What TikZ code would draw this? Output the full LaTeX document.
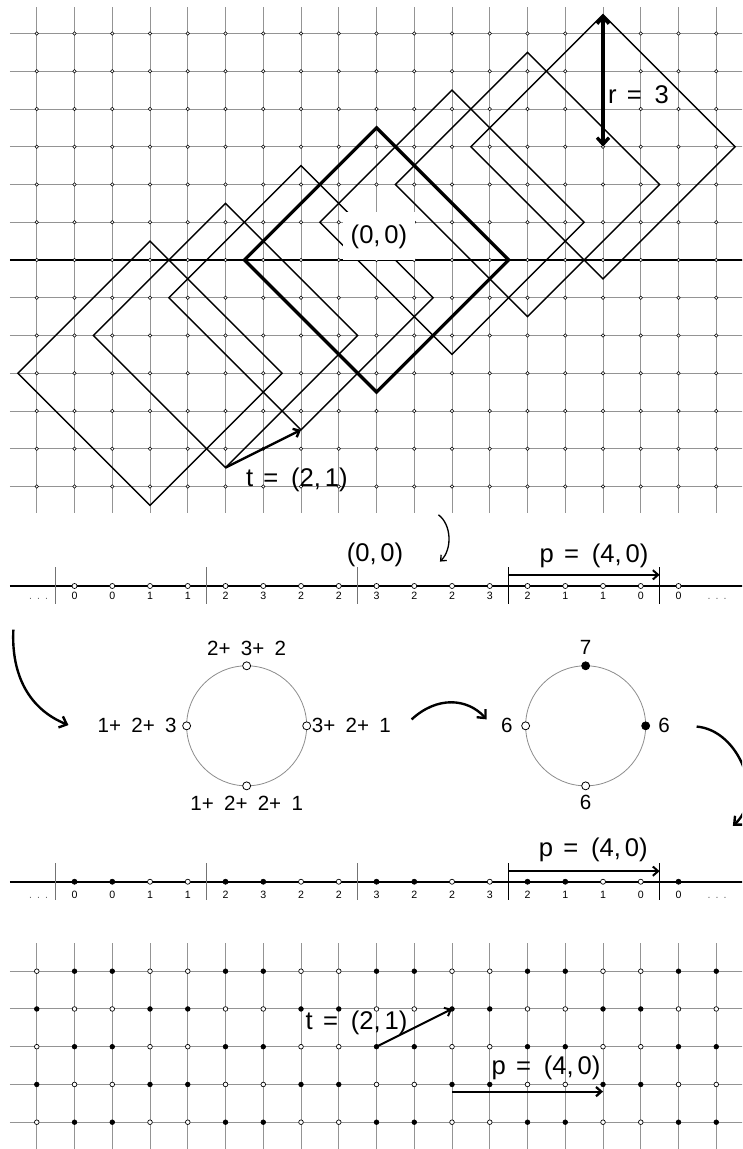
\documentclass[tikz,border=0pt]{standalone}
\usepackage{fontspec}
\setmainfont{Liberation Sans}
\usetikzlibrary{arrows.meta}
\newcommand{\bigf}{\fontsize{19.3}{23}\selectfont}
\newcommand{\midf}{\fontsize{15.5}{18}\selectfont}
\newcommand{\smf}{\fontsize{8}{9.6}\selectfont}
\newcommand{\eqgap}{\hspace{0.4em}=\hspace{0.5em}}
\newcommand{\cgap}{\hspace{0.15em}}
\newcommand{\pg}{+\hspace{0.5em}}
\newcommand{\tdots}{.\hspace{3.8pt}.\hspace{3.8pt}.}
\begin{document}
\begin{tikzpicture}[x=1cm,y=1cm,
  gridline/.style={black!42, line width=0.7pt},
  dia/.style={line width=1pt, line join=miter},
  gdot/.style={circle, draw=black, fill=white, line width=0.45pt, inner sep=0pt, minimum size=2.6pt},
  ldot/.style={circle, draw=black, fill=white, line width=0.5pt, inner sep=0pt, minimum size=3.8pt},
  lfdot/.style={ldot, fill=black},
  bdot/.style={circle, draw=black, fill=white, line width=0.5pt, inner sep=0pt, minimum size=3.5pt},
  bfdot/.style={bdot, fill=black},
  cpt/.style={circle, draw=black, fill=white, line width=0.6pt, inner sep=0pt, minimum size=6pt},
  cfpt/.style={cpt, fill=black},
  biglab/.style={font=\bigf, inner sep=0pt},
  midlab/.style={font=\midf, inner sep=0pt},
  smlab/.style={font=\smf, inner sep=0pt, anchor=base},
  sep/.style={line width=0.8pt},
  arr/.style={-{Straight Barb[length=5pt,width=9pt]}},
  sarr/.style={-{Straight Barb[length=4pt,width=7pt]}},
]
\path[use as bounding box] (-9.974,-23.55) rectangle (9.682,6.887);
\clip (-9.974,-23.55) rectangle (9.682,6.887);

% ---------- top grid ----------
\foreach \i in {-9,...,9} \draw[gridline] (\i,-6.7) -- (\i,6.7);
\foreach \j in {-6,...,6} \draw[gridline] (-9.71,\j) -- (9.8,\j);
\draw[line width=2.2pt] (-9.71,0) -- (9.8,0);
\foreach \k in {-3,-2,-1,1,2,3}
  \draw[dia, shift={({2*\k},{\k})}] (-3.5,0) -- (0,3.5) -- (3.5,0) -- (0,-3.5) -- cycle;
\draw[dia, line width=2.5pt] (-3.5,0) -- (0,3.5) -- (3.5,0) -- (0,-3.5) -- cycle;
\foreach \i in {-9,...,9} \foreach \j in {-6,...,6} \node[gdot] (gA\i B\j) at (\i,\j) {};

\node[biglab, fill=white, minimum width=1.93cm, minimum height=1.27cm] (orig) at (0.065,0.625) {(0,\cgap 0)};

\coordinate (rtop) at (6,6.5);
\coordinate (rbot) at (6,3);
\draw[line width=2.5pt, {Straight Barb[length=5pt,width=9pt]}-{Straight Barb[length=5pt,width=9pt]}] (rtop) -- (rbot);
\node[biglab, anchor=west] (rlab) at (6.13,4.37) {r\eqgap 3};

\coordinate (tA) at (-4,-5.5);
\coordinate (tB) at (-2,-4.5);
\draw[line width=1.8pt, sarr] (tA) -- (tB);
\node[biglab] (tlab) at (-2.11,-5.83) {t\eqgap(2,\cgap 1)};

% small curved arrow
\coordinate (s1) at (1.64,-6.75);
\coordinate (s2) at (1.68,-7.99);
\draw[line width=1pt, -{Straight Barb[length=3.5pt,width=6pt]}] (s1) .. controls (1.98,-7.0) and (2.02,-7.65) .. (s2);

% ---------- line 1 ----------
\coordinate (L1a) at (-9.71,-8.636);
\coordinate (L1b) at (9.8,-8.636);
\draw[line width=1.5pt] (L1a) -- (L1b);
\foreach \b in {-8.5,-4.5,-0.5} \draw[sep, black!55] (\b,-8.14) -- (\b,-9.12);
\foreach \b in {3.5,7.5} \draw[sep] (\b,-8.14) -- (\b,-9.12);
\foreach \x/\v in {-8/0,-7/0,-6/1,-5/1,-4/2,-3/3,-2/2,-1/2,0/3,1/2,2/2,3/3,4/2,5/1,6/1,7/0,8/0} {
  \node[ldot] (a\x) at (\x,-8.636) {};
  \node[smlab] (av\x) at (\x,-8.99) {\v};
}
\node[smlab, text=black!60] (adl) at (-8.95,-8.99) {\tdots};
\node[smlab, text=black!60] (adr) at (9.02,-8.99) {\tdots};
\coordinate (p1a) at (3.5,-8.34);
\coordinate (p1b) at (7.5,-8.34);
\draw[line width=1.5pt, sarr] (p1a) -- (p1b);
\node[biglab] (p1lab) at (5.76,-7.83) {p\eqgap(4,\cgap 0)};
\node[biglab] (o2) at (-0.04,-7.81) {(0,\cgap 0)};

% ---------- circles ----------
\coordinate (A1) at (-9.62,-9.79);
\coordinate (A2) at (-8.16,-12.32);
\draw[line width=1.8pt, arr] (A1) .. controls (-9.68,-11.0) and (-9.2,-11.9) .. (A2);

\coordinate (c1) at (-3.44,-12.34);
\draw[black!45, line width=0.6pt] (c1) circle (1.59);
\node[cpt] (c1t) at (-3.44,-10.75) {};
\node[cpt] (c1b) at (-3.44,-13.93) {};
\node[cpt] (c1l) at (-5.03,-12.34) {};
\node[cpt] (c1r) at (-1.85,-12.34) {};
\node[midlab] (c1tl) at (-3.44,-10.29) {2\pg 3\pg 2};
\node[midlab, anchor=east] (c1ll) at (-5.29,-12.34) {1\pg 2\pg 3};
\node[midlab, anchor=west] (c1rl) at (-1.72,-12.34) {3\pg 2\pg 1};
\node[midlab] (c1bl) at (-3.44,-14.38) {1\pg 2\pg 2\pg 1};

\coordinate (B1) at (0.93,-12.17);
\coordinate (B2) at (2.92,-12.17);
\draw[line width=1.8pt, arr] (B1) .. controls (1.6,-11.55) and (2.4,-11.6) .. (B2);

\coordinate (c2) at (5.54,-12.34);
\draw[black!45, line width=0.6pt] (c2) circle (1.59);
\node[cfpt] (c2t) at (5.54,-10.75) {};
\node[cpt] (c2b) at (5.54,-13.93) {};
\node[cpt] (c2l) at (3.95,-12.34) {};
\node[cfpt] (c2r) at (7.13,-12.34) {};
\node[midlab] (c2tl) at (5.54,-10.25) {7};
\node[midlab] (c2ll) at (3.45,-12.34) {6};
\node[midlab] (c2rl) at (7.62,-12.34) {6};
\node[midlab] (c2bl) at (5.54,-14.38) {6};

\coordinate (C1) at (8.48,-12.36);
\coordinate (C2) at (9.44,-14.99);
\draw[line width=1.8pt, arr] (C1) .. controls (9.6,-12.45) and (10.3,-14.2) .. (C2);

% ---------- line 2 ----------
\coordinate (L2a) at (-9.71,-16.47);
\coordinate (L2b) at (9.8,-16.47);
\draw[line width=1.5pt] (L2a) -- (L2b);
\foreach \b in {-8.5,-4.5,-0.5} \draw[sep, black!55] (\b,-15.98) -- (\b,-16.95);
\foreach \b in {3.5,7.5} \draw[sep] (\b,-15.98) -- (\b,-16.95);
\foreach \x/\v in {-8/0,-7/0,-6/1,-5/1,-4/2,-3/3,-2/2,-1/2,0/3,1/2,2/2,3/3,4/2,5/1,6/1,7/0,8/0} {
  \pgfmathtruncatemacro\f{mod(floor(\x/2)+100,2)}
  \ifnum\f=0 \node[lfdot] (b\x) at (\x,-16.47) {}; \else \node[ldot] (b\x) at (\x,-16.47) {}; \fi
  \node[smlab] (bv\x) at (\x,-16.92) {\v};
}
\node[smlab, text=black!60] (bdl) at (-8.95,-16.92) {\tdots};
\node[smlab, text=black!60] (bdr) at (9.02,-16.92) {\tdots};
\coordinate (p2a) at (3.5,-16.19);
\coordinate (p2b) at (7.5,-16.19);
\draw[line width=1.5pt, sarr] (p2a) -- (p2b);
\node[biglab] (p2lab) at (5.74,-15.62) {p\eqgap(4,\cgap 0)};

% ---------- bottom grid ----------
\foreach \i in {-9,...,9} \draw[gridline] (\i,-18.10) -- (\i,-23.7);
\foreach \j in {-2,...,2} \draw[gridline] (-9.71,{-20.84+\j}) -- (9.8,{-20.84+\j});
\foreach \i in {-9,...,9} \foreach \j in {-2,...,2} {
  \pgfmathtruncatemacro\f{mod(floor(\i/2)+\j+100,2)}
  \ifnum\f=0 \node[bfdot] (hA\i B\j) at (\i,{-20.84+\j}) {}; \else \node[bdot] (hA\i B\j) at (\i,{-20.84+\j}) {}; \fi
}
\draw[line width=1.5pt, sarr] (hA0B0.center) -- (hA2B1.center);
\node[biglab] (tlab2) at (-0.53,-20.22) {t\eqgap(2,\cgap 1)};
\coordinate (pb1) at (2,-22.03);
\coordinate (pb2) at (6,-22.03);
\draw[line width=1.7pt, sarr] (pb1) -- (pb2);
\node[biglab] (pblab) at (4.49,-21.41) {p\eqgap(4,\cgap 0)};
\end{tikzpicture}
\end{document}
